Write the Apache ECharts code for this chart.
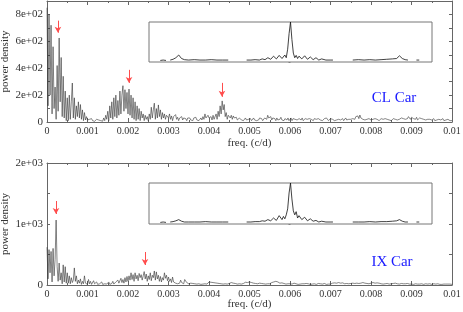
<!DOCTYPE html>
<html>
<head>
<meta charset="utf-8">
<script src="https://cdn.jsdelivr.net/npm/echarts@6/dist/echarts.min.js"></script>
<style>
html,body{margin:0;padding:0;background:#fff;}
#chart{width:463px;height:312px;}
</style>
</head>
<body>
<div id="chart"></div>
<script>
// ---- data ----
const FREQ_STEP = 0.000025; // c/d between periodogram samples
const clCarPower = [
850,120,800,200,720,60,560,100,260,20,420,80,625,150,480,40,340,30,230,10,
180,10,200,20,150,290,30,180,20,120,40,150,30,130,20,90,10,70,15,40,
15,5,20,8,25,10,18,5,12,20,8,15,5,10,20,6,30,10,50,20,
80,10,120,30,150,20,180,40,200,30,160,50,230,60,200,270,80,240,100,220,
60,245,50,200,30,180,20,150,10,120,20,100,10,80,30,60,10,50,20,40,
10,60,20,110,30,90,140,20,100,30,127,40,90,20,70,30,60,20,50,40,
30,60,20,45,10,40,30,55,20,35,10,30,25,40,15,30,20,25,10,30,
20,30,15,25,10,30,20,35,15,25,10,20,30,15,40,20,60,30,20,50,
30,20,40,15,50,20,30,60,20,80,40,120,60,157,90,130,40,70,20,50,
60,30,50,20,45,30,20,35,15,25,30,20,15,25,10,20,30,15,25,20,
15,25,10,20,30,15,25,10,20,15,30,20,25,10,20,30,40,20,50,30,
20,40,15,30,20,25,10,30,15,25,20,35,15,20,10,25,20,15,30,10,
20,30,10,25,15,20,30,15,10,25,20,15,30,10,20,25,15,20,10,25,
15,20,30,10,25,15,20,10,25,30,15,20,10,20,25,15,30,20,10,20,
25,15,20,30,10,20,15,25,20,30,15,20,25,10,20,30,15,25,20,30,
20,30,25,35,20,40,30,45,25,52,30,40,20,30,15,25,20,15,25,20,
15,25,20,10,25,15,20,30,10,20,25,15,20,10,25,15,20,30,15,20,
10,20,25,15,20,30,15,25,20,15,30,20,25,35,20,30,25,40,30,20,
35,40,25,30,20,35,15,25,30,20,25,15,20,30,15,25,20,10,20,25,
15,20,25,10,20,15,25,20,10,15,20,25,10,20,15,10,20,15,10,15,
10];
const ixCarPower = [
620,100,580,200,550,50,600,150,420,1065,300,60,360,80,200,20,330,50,300,30,
200,30,150,20,120,40,80,280,60,150,20,80,30,100,10,60,20,150,30,60,
10,90,20,60,10,40,70,20,30,50,10,40,20,30,50,10,40,20,30,15,
20,50,10,40,25,60,15,30,50,20,80,30,60,110,40,90,30,120,50,140,
60,150,80,200,90,170,60,200,100,160,70,190,120,170,80,150,220,100,180,60,
150,90,200,70,160,120,230,80,215,100,160,60,140,50,120,80,200,110,160,70,
130,60,100,40,130,50,80,30,60,20,50,30,80,40,60,20,90,115,40,60,
20,50,30,60,25,40,20,30,15,25,20,30,10,20,15,25,20,30,15,40,
50,30,45,20,40,25,35,15,30,20,25,15,20,30,15,25,20,30,15,20,
25,15,40,20,30,15,25,20,15,25,20,30,15,20,25,30,45,65,40,30,
50,30,40,20,30,15,25,35,20,40,30,50,25,35,20,30,15,25,20,30,
20,30,40,25,50,30,60,80,50,40,30,20,35,15,25,20,15,25,20,15,
20,25,15,20,30,15,20,25,10,20,15,25,20,15,20,10,25,15,20,15,
10,20,15,25,20,15,10,20,25,15,20,10,15,20,25,15,10,20,15,20,
15,25,30,20,35,25,30,20,40,25,30,20,35,25,20,30,25,35,20,30,
25,40,30,35,25,45,30,40,25,35,30,25,40,20,30,35,25,30,20,25,
30,25,40,20,30,25,35,20,30,25,20,30,15,25,20,30,25,20,15,25,
20,15,25,20,30,15,20,25,15,20,25,15,20,10,20,15,25,10,15,20,
15,20,10,15,20,10,15,20,15,10,20,15,10,15,20,10,15,10,20,15,
10,15,20,10,15,10,20,15,10,15,10,20,15,10,15,10,15,10,15,10,
10];
// spectral window insets (offset from centre, relative power; null = gap)
const windowOffset = [-92,-90,-88,-87,-85,-83,-81,-79,-77,-75,-72,-68,-64,-60,-56,-52,-48,-44,-38,
 -31,-28,-25,-22,-20,-18,-16,-14,-12,-10,-8,-6,-5,-4,-3,-2,-1,0,1,2,3,4,5,6,8,10,12,14,16,18,20,22,25,28,30,37,
 44,48,52,56,60,64,68,72,75,77,79,81,83,86,89,90,91];
const clWindow = [0.01,0.02,0.01,null,0.02,0.04,0.08,0.15,0.06,0.03,0.02,0.03,0.02,0.02,0.03,0.02,0.02,0.02,null,
 0.02,0.02,0.03,0.02,0.05,0.03,0.08,0.04,0.12,0.05,0.14,0.06,0.10,0.15,0.08,0.30,0.70,1.0,0.55,0.20,0.08,0.14,0.06,0.12,0.05,0.13,0.04,0.10,0.03,0.08,0.02,0.05,0.02,0.02,0.02,null,
 0.02,0.03,0.02,0.03,0.02,0.03,0.04,0.05,0.06,0.13,0.06,0.03,0.02,null,0.02,0.03,0.02];
const ixWindow = [0.01,0.02,0.01,null,0.02,0.03,0.05,0.08,0.04,0.02,0.02,0.02,0.02,0.03,0.02,0.02,0.02,0.02,null,
 0.02,0.02,0.03,0.03,0.05,0.04,0.08,0.05,0.12,0.06,0.18,0.08,0.16,0.10,0.20,0.35,0.75,1.0,0.60,0.30,0.20,0.28,0.12,0.18,0.08,0.14,0.05,0.10,0.04,0.06,0.02,0.04,0.02,0.02,0.02,null,
 0.02,0.02,0.02,0.03,0.02,0.03,0.03,0.04,0.05,0.08,0.04,0.02,0.02,null,0.02,0.03,0.02];
// red arrows: frequency, top and tip in power units
const clArrowFreq = [0.00027, 0.002025, 0.00432];
const clArrowTop  = [754, 388, 291];
const clArrowTip  = [664, 291, 187];
const ixArrowFreq = [0.000222, 0.00242];
const ixArrowTop  = [1377, 541];
const ixArrowTip  = [1164, 328];
const starNames = ['CL Car', 'IX Car'];

// ---- build ----
const FONT = 'Liberation Serif';
const pairs = arr => arr.map((v, i) => [i * FREQ_STEP, v]);
const winPairs = arr => arr.map((v, i) => [windowOffset[i], v]);
const arrows = (f, t, b) => f.map((x, i) => [{coord: [x, t[i]]}, {coord: [x, b[i]]}]);
const expFmt = v => v === 0 ? '0' : v.toExponential(0).replace(/e([+-])(\d)$/, 'e$10$2');
const freqFmt = v => String(+v.toFixed(4));

const axisLineStyle = {color: '#666', width: 1};
function mainX(grid, top) {
  return {
    type: 'value', gridIndex: grid, min: 0, max: 0.01, interval: 0.001,
    position: top ? 'top' : 'bottom',
    axisLine: {show: true, onZero: false, lineStyle: axisLineStyle},
    axisTick: {show: true, inside: true, length: 4, lineStyle: axisLineStyle},
    minorTick: {show: true, splitNumber: 2, length: 2, lineStyle: axisLineStyle},
    axisLabel: top ? {show: false} : {show: true, margin: 4, fontFamily: FONT, fontSize: 10, color: '#333', formatter: freqFmt},
    splitLine: {show: false},
    name: top ? '' : 'freq. (c/d)', nameLocation: 'middle', nameGap: grid === 0 ? 16 : 14,
    nameMoveOverlap: false,
    nameTextStyle: {fontFamily: FONT, fontSize: 11, color: '#333'}
  };
}
function mainY(grid, right, max, interval, labelStep) {
  return {
    type: 'value', gridIndex: grid, min: 0, max: max, interval: interval,
    position: right ? 'right' : 'left',
    axisLine: {show: true, onZero: false, lineStyle: axisLineStyle},
    axisTick: {show: true, inside: true, length: 3, lineStyle: axisLineStyle},
    axisLabel: right ? {show: false} : {show: true, margin: 4, fontFamily: FONT, fontSize: 11, color: '#333',
      formatter: v => (v % labelStep === 0) ? expFmt(v) : ''},
    splitLine: {show: false},
    name: right ? '' : 'power density', nameLocation: 'middle', nameGap: 36,
    nameMoveOverlap: false,
    nameTextStyle: {fontFamily: FONT, fontSize: 11, color: '#333'}
  };
}
function insetX(grid) {
  return {type: 'value', gridIndex: grid, min: -100, max: 100, show: false};
}
function insetY(grid) {
  return {type: 'value', gridIndex: grid, min: -0.03, max: 1.0, position: 'right',
    axisLine: {show: false}, axisLabel: {show: false}, splitLine: {show: false},
    axisTick: {show: true, inside: true, length: 2, lineStyle: {color: '#888'}}, interval: 0.25};
}
const arrowMark = data => ({
  silent: true, symbol: ['none', 'arrow'], symbolSize: [5, 6],
  lineStyle: {color: '#ff4d4d', width: 1, type: 'solid'},
  label: {show: false}, animation: false, data: data
});
const gridBase = {containLabel: false, outerBoundsMode: 'none'};

const option = {
  animation: false,
  grid: [
    Object.assign({left: 47, top: 1, width: 405, height: 121}, gridBase),
    Object.assign({left: 47, top: 163, width: 405, height: 122}, gridBase),
    Object.assign({left: 149, top: 22, width: 283, height: 40, show: true, borderColor: '#777', borderWidth: 1, backgroundColor: '#fff', z: 5}, gridBase),
    Object.assign({left: 149, top: 183, width: 283, height: 41, show: true, borderColor: '#777', borderWidth: 1, backgroundColor: '#fff', z: 5}, gridBase)
  ],
  xAxis: [mainX(0, false), mainX(0, true), mainX(1, false), mainX(1, true), insetX(2), insetX(3)],
  yAxis: [mainY(0, false, 900, 100, 200), mainY(0, true, 900, 100, 200),
          mainY(1, false, 2000, 500, 1000), mainY(1, true, 2000, 500, 1000),
          insetY(2), insetY(3)],
  series: [
    {type: 'line', xAxisIndex: 0, yAxisIndex: 0, data: pairs(clCarPower), showSymbol: false,
     lineStyle: {color: '#333', width: 0.6}, markLine: arrowMark(arrows(clArrowFreq, clArrowTop, clArrowTip))},
    {type: 'line', xAxisIndex: 2, yAxisIndex: 2, data: pairs(ixCarPower), showSymbol: false,
     lineStyle: {color: '#333', width: 0.6}, markLine: arrowMark(arrows(ixArrowFreq, ixArrowTop, ixArrowTip))},
    {type: 'line', xAxisIndex: 4, yAxisIndex: 4, data: winPairs(clWindow), showSymbol: false, connectNulls: false,
     lineStyle: {color: '#111', width: 0.8}, z: 6},
    {type: 'line', xAxisIndex: 5, yAxisIndex: 5, data: winPairs(ixWindow), showSymbol: false, connectNulls: false,
     lineStyle: {color: '#111', width: 0.8}, z: 6}
  ],
  graphic: [
    {type: 'text', x: 394, y: 98, style: {text: starNames[0], fill: '#1a1aff', font: '15px "Liberation Serif"', textAlign: 'center', textVerticalAlign: 'middle'}},
    {type: 'text', x: 392, y: 262, style: {text: starNames[1], fill: '#1a1aff', font: '15px "Liberation Serif"', textAlign: 'center', textVerticalAlign: 'middle'}}
  ]
};
const chart = echarts.init(document.getElementById('chart'), null, {renderer: 'canvas'});
chart.setOption(option);
</script>
</body>
</html>
